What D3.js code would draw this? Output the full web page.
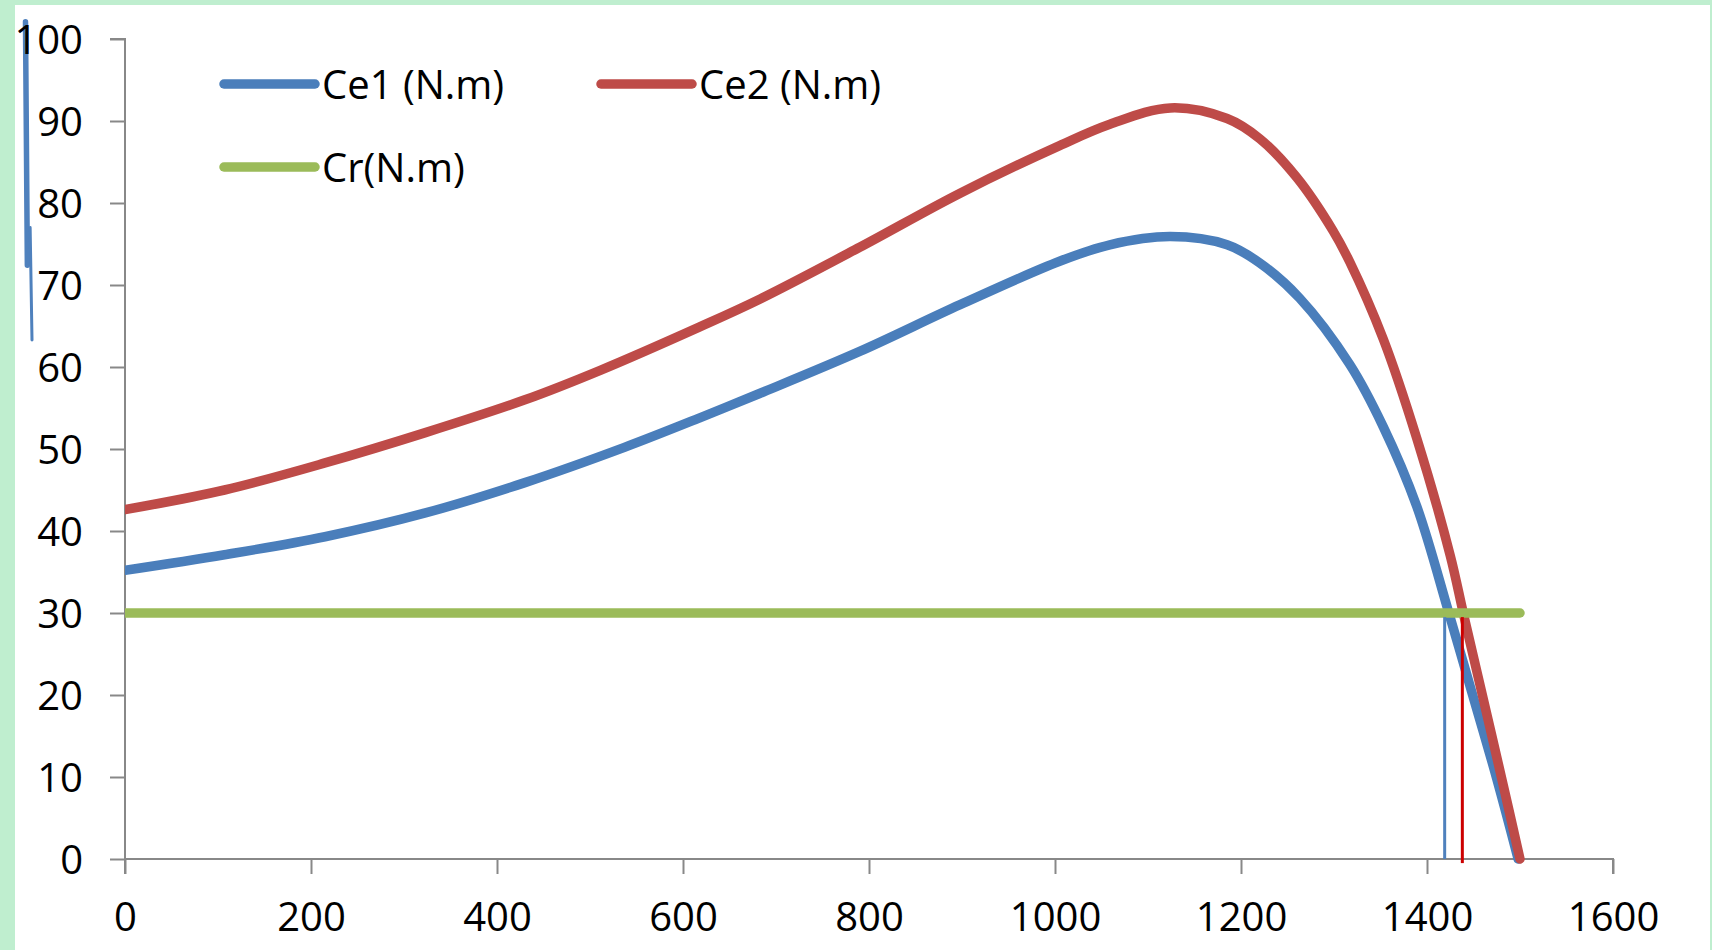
<!DOCTYPE html>
<html>
<head>
<meta charset="utf-8">
<script src="https://cdn.jsdelivr.net/npm/d3@7"></script>
<style>
  html,body{margin:0;padding:0;background:#fff;}
  svg{display:block;}
  text{font-family:"Open Sans","Noto Sans",sans-serif;fill:#000;}
</style>
</head>
<body>
<svg id="chart" width="1712" height="950"></svg>
<script>
// speed (tr/min) vs torque (N.m)
const ce1 = [[0,35.2],[107,37.1],[215,39.3],[323,42.2],[430,45.9],[537,50.2],[618,53.8],[683,56.8],[790,61.9],[898,67.6],[1005,72.9],[1059,74.9],[1124,75.9],[1185,74.9],[1220,72.7],[1263,68.4],[1317,60.3],[1353,52.7],[1389,43.0],[1423,30.2],[1446,21.2],[1475,9.8],[1498,0]];
const ce2 = [[0,42.6],[107,45.0],[215,48.3],[323,52.0],[430,56.0],[511,59.6],[618,64.9],[683,68.3],[790,74.6],[898,81.2],[1005,87.0],[1059,89.6],[1124,91.6],[1185,90.3],[1220,87.85],[1260,83.1],[1299,76.6],[1317,72.8],[1353,63.4],[1389,51.3],[1425,37.0],[1439,30],[1455,22.2],[1482,9.0],[1500,0]];
const cr = [[0,30],[1500,30]];
// operating points (drop lines)
const dropLines = [{n:1419,top:29.5,bottom:0,color:'#4f81bd'},{n:1438,top:29.5,bottom:-0.5,color:'#cc0000'}];
// stray pen stroke at the left of the axis
const strayStroke = [{pts:[[-107,102.1],[-105,72.4]],w:5.5},{pts:[[-102,77],[-100,63.3]],w:3}];
const xTicks = [0,200,400,600,800,1000,1200,1400,1600];
const yTicks = [0,10,20,30,40,50,60,70,80,90,100];
const series = [
  {name:'Ce1 (N.m)',data:ce1,color:'#4a7ebb'},
  {name:'Ce2 (N.m)',data:ce2,color:'#be4b48'},
  {name:'Cr(N.m)',data:cr,color:'#9bbb59'}
];

const svg=d3.select('#chart');
const x=d3.scaleLinear().domain([0,1600]).range([125,1613]);
const y=d3.scaleLinear().domain([0,100]).range([859,39]);

// green frame
svg.append('rect').attr('x',0).attr('y',0).attr('width',1712).attr('height',950).attr('fill','#bfeecf');
svg.append('rect').attr('x',15).attr('y',5).attr('width',1695).attr('height',945).attr('fill','#fff');

const axisColor='#888';
// y axis
const yAxis=svg.append('g').attr('transform',`translate(${x(0)},0)`)
  .call(d3.axisLeft(y).tickValues(yTicks).tickFormat(d3.format('d')).tickSize(15).tickPadding(27));
// x axis
const xAxis=svg.append('g').attr('transform',`translate(0,${y(0)})`)
  .call(d3.axisBottom(x).tickValues(xTicks).tickFormat(d3.format('d')).tickSize(15).tickPadding(28));
[yAxis,xAxis].forEach(a=>{
  a.selectAll('path').attr('stroke',axisColor).attr('stroke-width',2);
  a.selectAll('line').attr('stroke',axisColor).attr('stroke-width',2);
  a.selectAll('text').style('font-size','40px').attr('fill','#000');
});
yAxis.select('.domain').attr('d',`M-15,${y(100)}H0V${y(0)}`);
xAxis.select('.domain').attr('d',`M${x(0)},15V0H${x(1600)}V15`);
yAxis.selectAll('text').attr('dy','0.36em');
xAxis.selectAll('text').attr('dy','0.72em');

// stray stroke
const line=d3.line().x(d=>x(d[0])).y(d=>y(d[1]));
svg.append('g').selectAll('path').data(strayStroke).join('path')
  .attr('d',d=>line(d.pts)).attr('stroke','#4f81bd').attr('stroke-width',d=>d.w)
  .attr('fill','none').attr('stroke-linecap','round');
yAxis.raise();

svg.append('clipPath').attr('id','plot').append('rect')
  .attr('x',x(0)).attr('y',0).attr('width',1712-x(0)).attr('height',y(0)+5);

const curve=d3.line().x(d=>x(d[0])).y(d=>y(d[1])).curve(d3.curveCatmullRom.alpha(0.5));
svg.append('g').attr('clip-path','url(#plot)')
  .selectAll('path').data(series).join('path')
  .attr('d',d=>curve(d.data))
  .attr('fill','none')
  .attr('stroke',d=>d.color)
  .attr('stroke-width',9.5)
  .attr('stroke-linecap','round')
  .attr('stroke-linejoin','round');

svg.append('g').selectAll('line').data(dropLines).join('line')
  .attr('x1',d=>x(d.n)).attr('x2',d=>x(d.n))
  .attr('y1',d=>y(d.top)).attr('y2',d=>y(d.bottom))
  .attr('stroke',d=>d.color).attr('stroke-width',3);

// legend
const legendPos=[{lx:224,ly:84},{lx:601,ly:84},{lx:224,ly:167}];
const lg=svg.append('g').selectAll('g').data(series).join('g')
  .attr('transform',(d,i)=>`translate(${legendPos[i].lx},${legendPos[i].ly})`);
lg.append('line').attr('x1',0).attr('x2',91).attr('y1',0).attr('y2',0)
  .attr('stroke',d=>d.color).attr('stroke-width',9.5).attr('stroke-linecap','round');
lg.append('text').attr('x',98).attr('y',15).style('font-size','40px').text(d=>d.name);
</script>
</body>
</html>
